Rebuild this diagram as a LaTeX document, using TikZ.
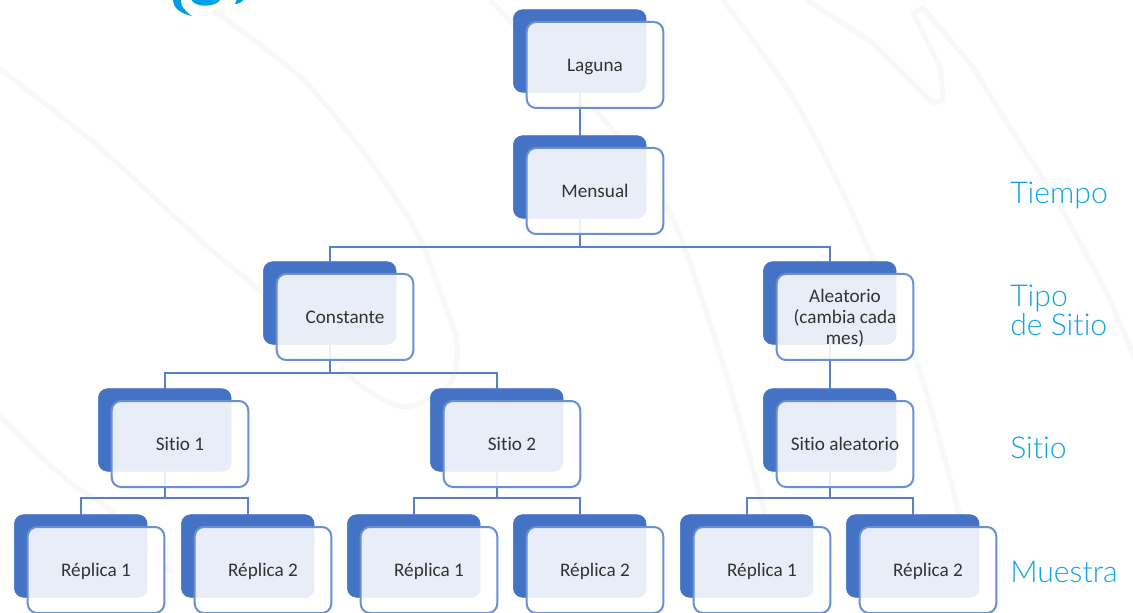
\documentclass[tikz,border=0pt]{standalone}
\usepackage{fontspec}
\setmainfont{Carlito}[Ligatures=NoCommon]
\newfontfamily\lblfont{Lato Light}[Ligatures=NoCommon]
\definecolor{nodeblue}{HTML}{4472C4}
\definecolor{edgeblue}{HTML}{6A90D2}
\definecolor{linkblue}{HTML}{5680C8}
\definecolor{labelcyan}{HTML}{0FA5E0}
\definecolor{logocyan}{HTML}{009FE3}
\definecolor{ghost}{HTML}{F8F8F8}
\definecolor{ink}{HTML}{333333}
\newcommand{\cardstrut}{\rule[-2.8pt]{0pt}{15.7pt}}
\tikzset{
  backbox/.style={draw=nodeblue,fill=nodeblue,rounded corners=7pt,minimum width=99.6pt,minimum height=62pt,inner sep=0pt,outer sep=0pt},
  frontbox/.style={draw=edgeblue,line width=1.5pt,fill=white,fill opacity=.88,text opacity=1,text=ink,rounded corners=7pt,minimum width=102.4pt,minimum height=64.5pt,inner sep=0pt,outer sep=0pt,align=center,font=\fontsize{14.4}{15.75}\selectfont},
  link/.style={draw=linkblue,line width=1.4pt},
  ghostline/.style={draw=ghost,line width=4pt,line join=round},
  sidelabel/.style={anchor=base west,text=labelcyan,inner sep=0pt,align=left,font=\lblfont\fontsize{22.6}{22.6}\selectfont}
}
\newcommand{\fork}[3]{\draw[link] (#1.south) -- (#1.south |- 0,#3) -| (#2.north);}
\newcommand{\backat}[3]{\node[backbox] (#1) at (#2+66.8,#3+42) {};}
\newcommand{\frontat}[4]{\node[frontbox] (#1) at (#2+82,#3+56) {#4};}
\begin{document}
\begin{tikzpicture}[x=0.75pt,y=-0.75pt]
\useasboundingbox (0,0) rectangle (1133,613);
\clip (0,0) rectangle (1133,613);
% faint background strokes
\draw[ghostline] plot[smooth] coordinates {(-5,65) (100,148) (200,240) (262,292)};
\draw[ghostline] plot[smooth] coordinates {(-5,412) (67,480) (110,510) (173,573)};
\draw[ghostline] plot[smooth] coordinates {(213,10) (300,77) (367,157) (417,233) (443,300) (457,343) (450,383) (407,407) (367,390) (340,367)};
\draw[ghostline] plot[smooth] coordinates {(490,0) (613,130) (670,213) (700,293) (733,397) (763,507) (778,570)};
\draw[ghostline] plot[smooth] coordinates {(723,0) (790,93) (840,187) (873,260) (917,363) (953,490) (970,560)};
\draw[ghostline] (807,0) -- (873,43) -- (933,103) -- (943,100) -- (940,67) -- (913,13) -- (923,8) -- (973,67) -- (1007,123) -- (1057,200) -- (1107,293) -- (1135,358);
% logo fragment
\fill[logocyan] (173,-1) .. controls (173,9) and (182,14) .. (192,16) .. controls (185,11) and (180,6) .. (181,-1) -- cycle;
\fill[logocyan] (191,-1) .. controls (194,8) and (216,8) .. (221,-1) -- cycle;
\fill[logocyan] (235,4) .. controls (239,4) and (242,2) .. (244,-1) -- (237,-1) -- cycle;
% back cards
\backat{bLaguna}{513}{9}
\backat{bMensual}{513}{135}
\backat{bConstante}{263}{261}
\backat{bAleatorio}{763}{261}
\backat{bSitioA}{98}{388}
\backat{bSitioB}{430}{388}
\backat{bSitioC}{763}{388}
\backat{bRepA}{14}{514}
\backat{bRepB}{181}{514}
\backat{bRepC}{347}{514}
\backat{bRepD}{513}{514}
\backat{bRepE}{680}{514}
\backat{bRepF}{846}{514}
% connectors
\draw[link] (bLaguna.south) -- (bMensual.north);
\fork{bMensual}{bConstante}{247}
\fork{bMensual}{bAleatorio}{247}
\fork{bConstante}{bSitioA}{373}
\fork{bConstante}{bSitioB}{373}
\draw[link] (bAleatorio.south) -- (bSitioC.north);
\fork{bSitioA}{bRepA}{498}
\fork{bSitioA}{bRepB}{498}
\fork{bSitioB}{bRepC}{498}
\fork{bSitioB}{bRepD}{498}
\fork{bSitioC}{bRepE}{498}
\fork{bSitioC}{bRepF}{498}
% front cards
\frontat{laguna}{513}{9}{\cardstrut Laguna}
\frontat{mensual}{513}{135}{\cardstrut Mensual}
\frontat{constante}{263}{261}{\cardstrut Constante}
\frontat{aleatorio}{763}{261}{\cardstrut Aleatorio\\\cardstrut(cambia cada\\\cardstrut mes)}
\frontat{sitioA}{98}{388}{\cardstrut Sitio 1}
\frontat{sitioB}{430}{388}{\cardstrut Sitio 2}
\frontat{sitioC}{763}{388}{\cardstrut Sitio aleatorio}
\frontat{repA}{14}{514}{\cardstrut Réplica 1}
\frontat{repB}{181}{514}{\cardstrut Réplica 2}
\frontat{repC}{347}{514}{\cardstrut Réplica 1}
\frontat{repD}{513}{514}{\cardstrut Réplica 2}
\frontat{repE}{680}{514}{\cardstrut Réplica 1}
\frontat{repF}{846}{514}{\cardstrut Réplica 2}
% side labels
\node[sidelabel] (tiempo) at (1010,204) {Tiempo};
\node[sidelabel] (tipo) at (1010,307) {Tipo};
\node[sidelabel] (desitio) at (1010,335) {de Sitio};
\node[sidelabel] (sitio) at (1010,458) {Sitio};
\node[sidelabel] (muestra) at (1010,582) {Muestra};
\end{tikzpicture}
\end{document}
